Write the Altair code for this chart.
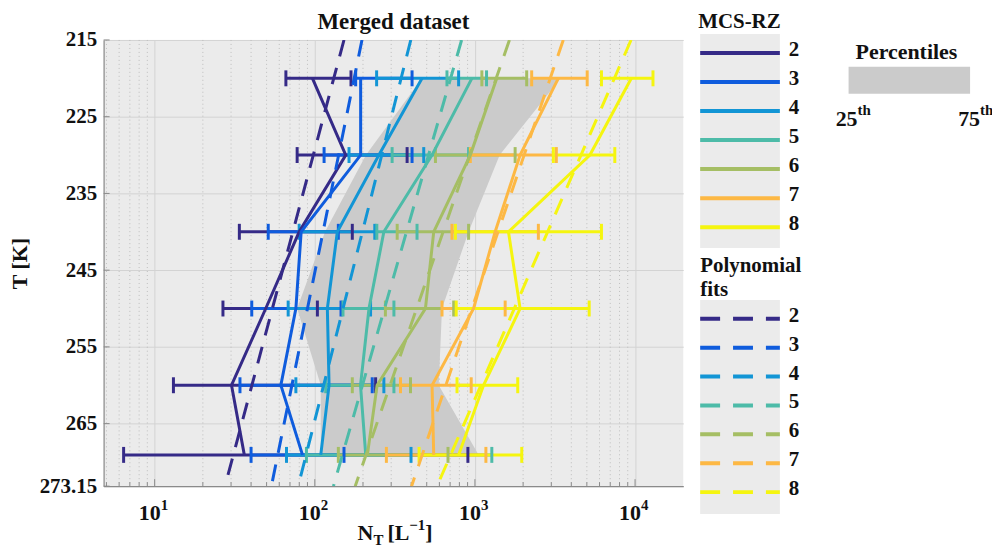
import altair as alt
import pandas as pd

SERIF = "Liberation Serif"

series = ["2", "3", "4", "5", "6", "7", "8"]
colors = ["#352A87", "#0F5CDD", "#1295D5", "#4DBBA8", "#A5BE64", "#FDB844", "#F5F50F"]

# temperature bin mid-points [K]
T_mid = [220, 230, 240, 250, 260, 269.075]

# N_T [L^-1] per MCS-RZ class (solid line values)
center = {
    "2": [96.7, 156.1, 79.9, 49.4, 30.2, 36.3],
    "3": [193.4, 193.4, 82.2, 76.2, 61.4, 83.8],
    "4": [467.6, 251.4, 138.3, 119.8, 122.8, 109.0],
    "5": [957, 540, 270, 218, 193, 208],
    "6": [1369, 936, 553, 491, 245, 213],
    "7": [3316, 1915, 1338, 981, 540, 553],
    "8": [9484, 5224, 1620, 1915, 1132, 791],
}
err_lo = {
    "2": [66.0, 77.6, 33.8, 26.7, 13.1, 6.4],
    "3": [180.0, 114.3, 51.2, 40.4, 34.1, 40.0],
    "4": [243.3, 163.6, 79.9, 68.2, 76.2, 66.6],
    "5": [669, 304, 244, 150, 117, 88.7],
    "6": [1105, 567, 327, 276, 171.5, 140.3],
    "7": [2262, 936, 719, 623, 343, 280],
    "8": [6170, 3088, 755, 764, 773, 448],
}
err_hi = {
    "2": [168.3, 377.2, 171.5, 103.8, 239.8, 904],
    "3": [405, 405, 140.3, 145.8, 228.4, 152.2],
    "4": [791, 479, 237, 223, 270, 399],
    "5": [1182, 913, 435, 312, 312, 1275],
    "6": [2105, 1783, 913, 737, 396, 679],
    "7": [5025, 3224, 2490, 1545, 948, 1171],
    "8": [12942, 7474, 6170, 5172, 1851, 1961],
}

# 25th / 75th percentile band
band_lo = [467.6, 208.7, 115.9, 77.6, 109.0, 109.0]
band_hi = [3431, 1428, 913, 622.9, 594.1, 1055]

# polynomial fits, evaluated at the axis limits
fit_T = [215, 273.15]
fit_N = {
    "2": [152.2, 27.5],
    "3": [197.1, 53.6],
    "4": [397.7, 78.8],
    "5": [826, 130.8],
    "6": [1643, 178.8],
    "7": [3563, 402],
    "8": [9443, 580],
}

y_ticks = [215, 225, 235, 245, 255, 265, 273.15]
x_decades = [10, 100, 1000, 10000]
x_exps = ["1", "2", "3", "4"]
x_minor = [5, 6, 7, 8, 9, 20, 30, 40, 50, 60, 70, 80, 90,
           200, 300, 400, 500, 600, 700, 800, 900,
           2000, 3000, 4000, 5000, 6000, 7000, 8000, 9000]

# ---------------- tables ----------------
rows = []
for k in series:
    for i, t in enumerate(T_mid):
        rows.append({"k": k, "T": t, "c": center[k][i], "lo": err_lo[k][i], "hi": err_hi[k][i]})
df_pts = pd.DataFrame(rows)
df_fit = pd.DataFrame([{"k": k, "T": fit_T[j], "N": fit_N[k][j]} for k in series for j in range(2)])
df_band = pd.DataFrame({"T": T_mid, "lo": band_lo, "hi": band_hi})
df_minor = pd.DataFrame({"v": x_minor})
df_dec = pd.DataFrame({"v": x_decades, "e": x_exps})
df_yt = pd.DataFrame({"t": y_ticks})
df_series = pd.DataFrame({"k": series})
one = pd.DataFrame({"a": [0]})

xs = alt.Scale(type="log", domain=[4.8, 20000], nice=False)
ys = alt.Scale(domain=[215, 273.15], reverse=True, nice=False, zero=False)
cs = alt.Scale(domain=series, range=colors)
C = alt.Color("k:N", scale=cs, legend=None)

x_axis = alt.Axis(values=x_decades, labels=False, ticks=False, grid=True, gridColor="#D3D3D3",
                  gridWidth=1, domainColor="#8A8A8A", domainWidth=1.2, title=None)
y_axis = alt.Axis(values=y_ticks,
                  labelExpr="datum.value > 270 ? '273.15' : format(datum.value, 'd')",
                  title="T [K]", titleFont=SERIF, titleFontSize=22,
                  titleFontWeight="bold", titleColor="#111", titlePadding=8,
                  labelFont=SERIF, labelFontSize=21, labelFontWeight="bold", labelColor="#111",
                  labelPadding=7, labelFlush=False, labelOverlap=False, tickSize=0,
                  grid=True, gridColor="#D3D3D3", domainColor="#8A8A8A", domainWidth=1.2)


def X(f):
    return alt.X(f, scale=xs, axis=x_axis)


def Y(f):
    return alt.Y(f, scale=ys, axis=y_axis)


minor = alt.Chart(df_minor).mark_rule(color="#BDBDBD", strokeDash=[1, 3], strokeWidth=1).encode(
    x=X("v:Q"))

# inward axis ticks (MATLAB style)
xtick_minor = alt.Chart(df_minor).mark_rule(color="#8A8A8A", strokeWidth=1).encode(
    x=X("v:Q"), y=alt.value(448), y2=alt.value(444))
xtick_major = alt.Chart(df_dec).mark_rule(color="#8A8A8A", strokeWidth=1).encode(
    x=X("v:Q"), y=alt.value(448), y2=alt.value(441))
ytick = alt.Chart(df_yt).mark_rule(color="#8A8A8A", strokeWidth=1).encode(
    y=Y("t:Q"), x=alt.value(0), x2=alt.value(6))

band = alt.Chart(df_band).mark_area(orient="horizontal", color="#CBCBCB", opacity=1).encode(
    y=Y("T:Q"), x=X("lo:Q"), x2="hi:Q")

errbars = alt.Chart(df_pts).mark_rule(strokeWidth=3).encode(
    x=X("lo:Q"), x2="hi:Q", y=Y("T:Q"), color=C)

caps = alt.Chart(df_pts).transform_fold(["lo", "hi"], as_=["end", "val"]).mark_tick(
    orient="vertical", thickness=3, size=16, opacity=1).encode(
    x=X("val:Q"), y=Y("T:Q"), color=C)

lines = alt.Chart(df_pts).mark_line(strokeWidth=3).encode(
    x=X("c:Q"), y=Y("T:Q"), color=C, order="T:Q")

fits = alt.Chart(df_fit).mark_line(strokeWidth=3, strokeDash=[17, 12], clip=True).encode(
    x=X("N:Q"), y=Y("T:Q"), color=C, order="T:Q")

txt = dict(font=SERIF, fontWeight="bold", color="#111")

xlab10 = alt.Chart(df_dec).mark_text(align="right", baseline="alphabetic", dx=6, fontSize=22, **txt).encode(
    x=X("v:Q"), y=alt.value(482), text=alt.value("10"))
xlabexp = alt.Chart(df_dec).mark_text(align="left", baseline="alphabetic", dx=6, dy=-10, fontSize=15, **txt).encode(
    x=X("v:Q"), y=alt.value(482), text="e:N")

title = alt.Chart(one).mark_text(align="center", baseline="alphabetic", fontSize=23, **txt).encode(
    x=alt.value(291), y=alt.value(-11), text=alt.value("Merged dataset"))


def piece(s, x, y, size):
    return alt.Chart(one).mark_text(align="left", baseline="alphabetic", fontSize=size, **txt).encode(
        x=alt.value(x), y=alt.value(y), text=alt.value(s))


xt = [piece("N", 255, 502, 22), piece("T", 271, 507, 15), piece("[L", 285, 502, 22),
      piece("\u22121", 307, 492, 15), piece("]", 323, 502, 22)]

main = alt.layer(minor, band, xtick_minor, xtick_major, ytick, errbars, caps, lines, fits,
                 xlab10, xlabexp, title, *xt)

# ---------------- legends ----------------
box1 = alt.Chart(one).mark_rect(color="#EBEBEB").encode(
    x=alt.value(599), x2=alt.value(679), y=alt.value(-6), y2=alt.value(209))
ys1 = alt.Scale(type="point", domain=series, range=[13, 188], padding=0)
lines1 = alt.Chart(df_series).mark_rule(strokeWidth=4).encode(
    x=alt.value(599), x2=alt.value(679), y=alt.Y("k:N", scale=ys1, axis=None), color=C)
labels1 = alt.Chart(df_series).mark_text(align="left", baseline="middle", dy=-3, fontSize=21, **txt).encode(
    x=alt.value(688), y=alt.Y("k:N", scale=ys1, axis=None), text="k:N")
title1 = piece("MCS-RZ", 597, -12, 21)
leg1 = alt.layer(box1, lines1, labels1, title1)

box2 = alt.Chart(one).mark_rect(color="#EBEBEB").encode(
    x=alt.value(599), x2=alt.value(679), y=alt.value(261), y2=alt.value(476))
ys2 = alt.Scale(type="point", domain=series, range=[280, 454], padding=0)
lines2 = alt.Chart(df_series).mark_rule(strokeWidth=4, strokeDash=[20, 13]).encode(
    x=alt.value(599), x2=alt.value(679), y=alt.Y("k:N", scale=ys2, axis=None), color=C)
labels2 = alt.Chart(df_series).mark_text(align="left", baseline="middle", dy=-3, fontSize=21, **txt).encode(
    x=alt.value(688), y=alt.Y("k:N", scale=ys2, axis=None), text="k:N")
title2a = piece("Polynomial", 599, 233, 21)
title2b = piece("fits", 599, 257, 21)
leg2 = alt.layer(box2, lines2, labels2, title2a, title2b)

pct_rect = alt.Chart(one).mark_rect(color="#CBCBCB").encode(
    x=alt.value(748), x2=alt.value(870), y=alt.value(27), y2=alt.value(54))
pct = alt.layer(pct_rect, piece("Percentiles", 755, 19, 22),
                piece("25", 735, 86, 22), piece("th", 757, 75, 15),
                piece("75", 858, 86, 22), piece("th", 880, 75, 15))

chart = alt.layer(main, leg1, leg2, pct).resolve_scale(x="independent", y="independent").properties(
    width=582, height=448,
    autosize=alt.AutoSizeParams(type="none"),
    padding={"left": 96, "top": 31, "right": 310, "bottom": 60},
).configure_view(fill="#EBEBEB", stroke=None)

chart.save("out.html", embed_options={"renderer": "svg", "actions": False})
